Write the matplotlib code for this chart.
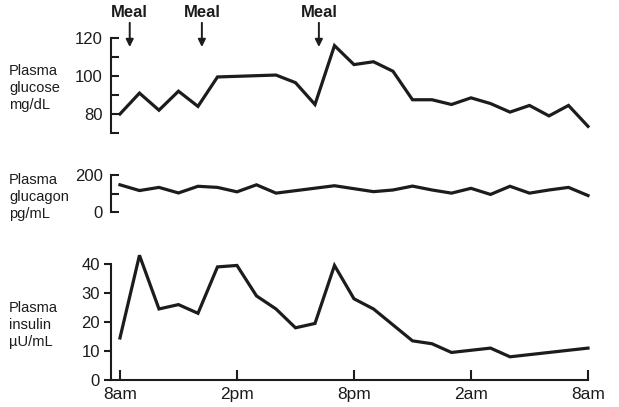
import matplotlib
matplotlib.use("Agg")
import matplotlib.pyplot as plt

plt.rcParams['font.family'] = ['Liberation Sans', 'DejaVu Sans']

# hours after 8am
glucose_t = [0, 1, 2, 3, 4, 5, 8, 9, 10, 11, 12, 13, 14, 15, 16, 17, 18, 19, 20, 21, 22, 23, 24]
glucose_v = [80, 91, 82, 92, 84, 99.5, 100.5, 96.5, 85, 116, 106, 107.5, 102.5, 87.5, 87.5,
             85, 88.5, 85.5, 81, 84.5, 79, 84.5, 73.5]

glucagon_t = [0, 1, 2, 3, 4, 5, 6, 7, 8, 11, 13, 14, 15, 16, 17, 18, 19, 20, 21, 22, 23, 24]
glucagon_v = [147, 116, 133, 103, 139, 133, 109, 147, 102, 142, 110, 119, 140, 119, 102,
              128, 95, 139, 102, 119, 133, 89]

insulin_t = [0, 1, 2, 3, 4, 5, 6, 7, 8, 9, 10, 11, 12, 13, 15, 16, 17, 19, 20, 24]
insulin_v = [14.5, 43, 24.5, 26, 23, 39, 39.5, 29, 24.5, 18, 19.5, 39.5, 28, 24.5,
             13.5, 12.5, 9.5, 11, 8, 11]

meal_t = [0.5, 4.2, 10.2]
time_ticks = [0, 6, 12, 18, 24]
time_labels = ['8am', '2pm', '8pm', '2am', '8am']

W, H = 619, 407
fig = plt.figure(figsize=(W / 100, H / 100), dpi=100)

def axes_px(left, right, top, bottom):
    return fig.add_axes([left / W, 1 - bottom / H, (right - left) / W, (bottom - top) / H])

xlim = (-0.46, 24)
lc = '#1c1c1c'
lw = 2.3
fs = 12

# glucose
ax1 = axes_px(111, 588, 38, 133)
ax1.plot(glucose_t, glucose_v, color=lc, lw=lw, solid_joinstyle='miter', clip_on=False)
ax1.set_xlim(*xlim)
ax1.set_ylim(70, 120)
ax1.set_yticks([70, 80, 90, 100, 110, 120])
ax1.set_yticklabels(['', '80', '', '100', '', '120'])
ax1.tick_params(axis='y', direction='in', length=6, width=1.5, pad=6, labelsize=fs, colors=lc)
for s in ['top', 'right', 'bottom']:
    ax1.spines[s].set_visible(False)
ax1.spines['left'].set_linewidth(1.5)
ax1.spines['left'].set_color(lc)
ax1.set_xticks([])

tr = ax1.get_xaxis_transform()
for t in meal_t:
    ax1.text(t, 1.27, 'Meal', transform=tr, ha='center', va='center', fontsize=12,
             color=lc, fontweight='semibold')
    ax1.annotate('', xy=(t, 0.905), xytext=(t, 1.16), xycoords=tr, textcoords=tr,
                 arrowprops=dict(arrowstyle='-|>', color=lc, lw=1.4, mutation_scale=11,
                                 shrinkA=0, shrinkB=0))

# glucagon
ax2 = axes_px(111, 588, 175, 212)
ax2.plot(glucagon_t, glucagon_v, color=lc, lw=lw, solid_joinstyle='miter', clip_on=False)
ax2.set_xlim(*xlim)
ax2.set_ylim(0, 200)
ax2.set_yticks([0, 100, 200])
ax2.set_yticklabels(['0', '', '200'])
ax2.tick_params(axis='y', direction='in', length=6, width=1.5, pad=6, labelsize=fs, colors=lc)
for s in ['top', 'right', 'bottom']:
    ax2.spines[s].set_visible(False)
ax2.spines['left'].set_linewidth(1.5)
ax2.spines['left'].set_color(lc)
ax2.set_xticks([])

# insulin
ax3 = axes_px(111, 588, 264, 380)
ax3.plot(insulin_t, insulin_v, color=lc, lw=lw, solid_joinstyle='miter', clip_on=False)
ax3.set_xlim(*xlim)
ax3.set_ylim(0, 40)
ax3.set_yticks([0, 10, 20, 30, 40])
ax3.tick_params(axis='y', direction='out', length=5, width=1.5, pad=3, labelsize=fs, colors=lc)
ax3.set_xticks(time_ticks)
ax3.set_xticklabels(time_labels)
ax3.tick_params(axis='x', direction='in', length=7, width=1.5, pad=5, labelsize=12.5, colors=lc)
for s in ['top', 'right']:
    ax3.spines[s].set_visible(False)
for s in ['left', 'bottom']:
    ax3.spines[s].set_linewidth(1.5)
    ax3.spines[s].set_color(lc)

# row labels
def row_label(txt, ycenter):
    fig.text(9 / W, 1 - ycenter / H, txt, ha='left', va='center', fontsize=10.5,
             color=lc, linespacing=1.25)

row_label('Plasma\nglucose\nmg/dL', 88)
row_label('Plasma\nglucagon\npg/mL', 197)
row_label('Plasma\ninsulin\n\u00b5U/mL', 325)

fig.savefig('out.png', dpi=100)
